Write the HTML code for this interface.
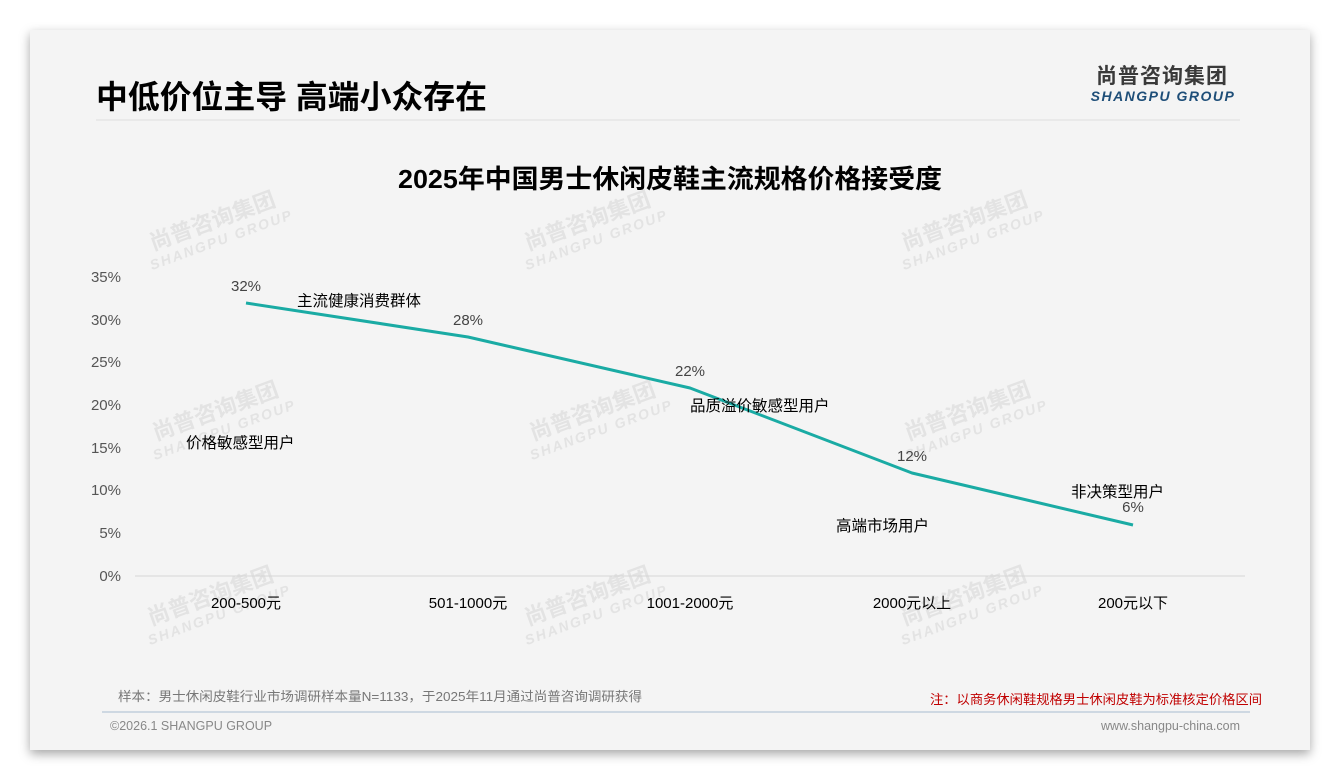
<!DOCTYPE html>
<html><head><meta charset="utf-8"><style>
html,body{margin:0;padding:0;background:#fff;}
body{width:1340px;height:780px;position:relative;overflow:hidden;font-family:"Liberation Sans","Noto Sans CJK SC",sans-serif;}
.slide{position:absolute;left:30px;top:30px;width:1280px;height:720px;background:#f4f4f4;box-shadow:0 4px 10px rgba(0,0,0,0.35);}
</style></head><body>
<div class="slide"></div>
<svg width="1340" height="780" style="position:absolute;left:0;top:0" font-family="Liberation Sans, Noto Sans CJK SC, sans-serif">
<g fill="#e3e3e3" font-weight="bold">
<g transform="translate(215,228) rotate(-20)"><text x="0" y="0" font-size="22" text-anchor="middle">尚普咨询集团</text><text x="2" y="18" font-size="14" text-anchor="middle" font-style="italic" letter-spacing="2">SHANGPU GROUP</text></g>
<g transform="translate(590,228) rotate(-20)"><text x="0" y="0" font-size="22" text-anchor="middle">尚普咨询集团</text><text x="2" y="18" font-size="14" text-anchor="middle" font-style="italic" letter-spacing="2">SHANGPU GROUP</text></g>
<g transform="translate(967,228) rotate(-20)"><text x="0" y="0" font-size="22" text-anchor="middle">尚普咨询集团</text><text x="2" y="18" font-size="14" text-anchor="middle" font-style="italic" letter-spacing="2">SHANGPU GROUP</text></g>
<g transform="translate(218,418) rotate(-20)"><text x="0" y="0" font-size="22" text-anchor="middle">尚普咨询集团</text><text x="2" y="18" font-size="14" text-anchor="middle" font-style="italic" letter-spacing="2">SHANGPU GROUP</text></g>
<g transform="translate(595,418) rotate(-20)"><text x="0" y="0" font-size="22" text-anchor="middle">尚普咨询集团</text><text x="2" y="18" font-size="14" text-anchor="middle" font-style="italic" letter-spacing="2">SHANGPU GROUP</text></g>
<g transform="translate(970,418) rotate(-20)"><text x="0" y="0" font-size="22" text-anchor="middle">尚普咨询集团</text><text x="2" y="18" font-size="14" text-anchor="middle" font-style="italic" letter-spacing="2">SHANGPU GROUP</text></g>
<g transform="translate(213,603) rotate(-20)"><text x="0" y="0" font-size="22" text-anchor="middle">尚普咨询集团</text><text x="2" y="18" font-size="14" text-anchor="middle" font-style="italic" letter-spacing="2">SHANGPU GROUP</text></g>
<g transform="translate(590,603) rotate(-20)"><text x="0" y="0" font-size="22" text-anchor="middle">尚普咨询集团</text><text x="2" y="18" font-size="14" text-anchor="middle" font-style="italic" letter-spacing="2">SHANGPU GROUP</text></g>
<g transform="translate(966,603) rotate(-20)"><text x="0" y="0" font-size="22" text-anchor="middle">尚普咨询集团</text><text x="2" y="18" font-size="14" text-anchor="middle" font-style="italic" letter-spacing="2">SHANGPU GROUP</text></g>
</g>
<text x="96" y="108" font-size="32" font-weight="bold" fill="#000" textLength="391" lengthAdjust="spacingAndGlyphs">中低价位主导 高端小众存在</text>
<line x1="96" y1="120" x2="1240" y2="120" stroke="#dedede" stroke-width="1"/>
<text x="1162" y="83" font-size="21" font-weight="bold" fill="#3a3a3a" text-anchor="middle" letter-spacing="1">尚普咨询集团</text>
<text x="1163" y="101" font-size="14" font-weight="bold" font-style="italic" fill="#1e4e78" text-anchor="middle" letter-spacing="1.5">SHANGPU GROUP</text>
<text x="398" y="188" font-size="26" font-weight="bold" fill="#000" textLength="544" lengthAdjust="spacingAndGlyphs">2025年中国男士休闲皮鞋主流规格价格接受度</text>
<g font-size="15" fill="#555" text-anchor="end">
<text x="121" y="282">35%</text><text x="121" y="325">30%</text><text x="121" y="367">25%</text><text x="121" y="410">20%</text><text x="121" y="453">15%</text><text x="121" y="495">10%</text><text x="121" y="538">5%</text><text x="121" y="581">0%</text>
</g>
<line x1="135" y1="576" x2="1245" y2="576" stroke="#d6d6d6" stroke-width="1"/>
<g font-size="15" fill="#000" text-anchor="middle">
<text x="246" y="608">200-500元</text><text x="468" y="608">501-1000元</text><text x="690" y="608">1001-2000元</text><text x="912" y="608">2000元以上</text><text x="1133" y="608">200元以下</text>
</g>
<polyline points="246,303 468,337 690,388 912,473 1133,525" fill="none" stroke="#1aaba4" stroke-width="3" stroke-linejoin="round"/>
<g font-size="15" fill="#444" text-anchor="middle">
<text x="246" y="291">32%</text><text x="468" y="325">28%</text><text x="690" y="376">22%</text><text x="912" y="461">12%</text><text x="1133" y="512">6%</text>
</g>
<g font-size="15.5" fill="#000">
<text x="297" y="306">主流健康消费群体</text>
<text x="690" y="411">品质溢价敏感型用户</text>
<text x="186" y="448">价格敏感型用户</text>
<text x="836" y="531">高端市场用户</text>
<text x="1071" y="497">非决策型用户</text>
</g>
<text x="118" y="701" font-size="13" fill="#777" textLength="524" lengthAdjust="spacingAndGlyphs">样本：男士休闲皮鞋行业市场调研样本量N=1133，于2025年11月通过尚普咨询调研获得</text>
<text x="930" y="704" font-size="13" fill="#c00000" textLength="332" lengthAdjust="spacingAndGlyphs">注：以商务休闲鞋规格男士休闲皮鞋为标准核定价格区间</text>
<line x1="102" y1="712" x2="1250" y2="712" stroke="#b8c8d6" stroke-width="1.2"/>
<text x="110" y="730" font-size="12.5" fill="#888">©2026.1 SHANGPU GROUP</text>
<text x="1240" y="730" font-size="12.5" fill="#888" text-anchor="end">www.shangpu-china.com</text>
</svg>
</body></html>
